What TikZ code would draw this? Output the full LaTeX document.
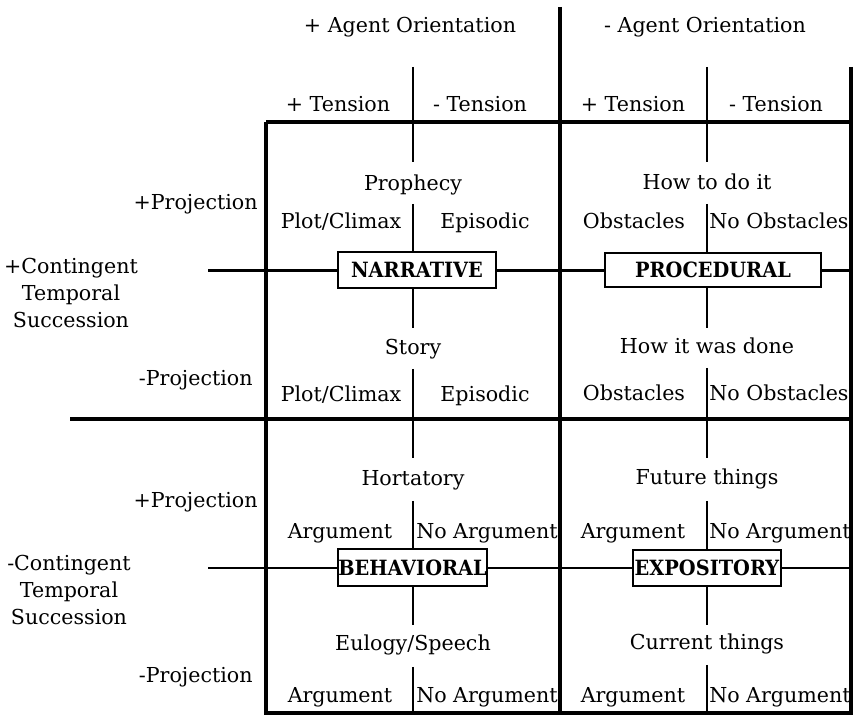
\documentclass[tikz,border=0pt]{standalone}
\usepackage{fontspec}
\setmainfont{DejaVu Serif}
\newfontfamily\boxfont[FakeStretch=0.92]{DejaVu Serif}
\begin{document}
\begin{tikzpicture}[x=0.5pt,y=-0.5pt,
  lbl/.style={font=\fontsize{10.3}{13.5}\selectfont, inner sep=0pt, text height=7.6pt, text depth=2.2pt},
  typebox/.style={draw, line width=1pt, inner sep=0pt, font=\boxfont\bfseries\fontsize{10.5}{12}\selectfont, text height=7.6pt, text depth=0.5pt},
  mainline/.style={line width=2.2pt},
  border/.style={line width=1.6pt},
  thinline/.style={line width=1.1pt},
  midline/.style={line width=1.3pt}]
\useasboundingbox (0,0) rectangle (853,716);
% headings
\node[lbl] (pao) at (410,27) {+ Agent Orientation};
\node[lbl] (mao) at (705,27) {- Agent Orientation};
\node[lbl] (pt1) at (338,106) {+ Tension};
\node[lbl] (mt1) at (480,106) {- Tension};
\node[lbl] (pt2) at (633,106) {+ Tension};
\node[lbl] (mt2) at (776,106) {- Tension};
% side labels
\node[lbl, anchor=east] (pp1) at (258,204) {+Projection};
\node[lbl, anchor=east] (mp1) at (253,380) {-Projection};
\node[lbl, anchor=east] (pp2) at (258,502) {+Projection};
\node[lbl, anchor=east] (mp2) at (253,677) {-Projection};
\node[lbl, align=center, text height=, text depth=] (pcts) at (71,293) {+Contingent\\Temporal\\Succession};
\node[lbl, align=center, text height=, text depth=] (mcts) at (69,590) {-Contingent\\Temporal\\Succession};
% boxes
\node[typebox, minimum width=79pt, minimum height=18pt] (nar) at (417,270.5) {NARRATIVE};
\node[typebox, minimum width=108pt, minimum height=17pt] (pro) at (713,270.5) {PROCEDURAL};
\node[typebox, minimum width=74.5pt, minimum height=18.5pt] (beh) at (412.5,568) {BEHAVIORAL};
\node[typebox, minimum width=74pt, minimum height=18pt] (exp) at (707,568) {EXPOSITORY};
% quadrant labels
\node[lbl] (proph) at (413,185) {Prophecy};
\node[lbl] (pc1) at (341,223) {Plot/Climax};
\node[lbl] (ep1) at (485,223) {Episodic};
\node[lbl] (story) at (413,349) {Story};
\node[lbl] (pc2) at (341,396) {Plot/Climax};
\node[lbl] (ep2) at (485,396) {Episodic};
\node[lbl] (howto) at (707,184) {How to do it};
\node[lbl] (ob1) at (634,223) {Obstacles};
\node[lbl] (nob1) at (779,223) {No Obstacles};
\node[lbl] (howwas) at (707,348) {How it was done};
\node[lbl] (ob2) at (634,395) {Obstacles};
\node[lbl] (nob2) at (779,395) {No Obstacles};
\node[lbl] (hort) at (413,480) {Hortatory};
\node[lbl] (ar1) at (340,533) {Argument};
\node[lbl] (nar1) at (487,533) {No Argument};
\node[lbl] (eul) at (413,645) {Eulogy/Speech};
\node[lbl] (ar2) at (340,697) {Argument};
\node[lbl] (nar2) at (487,697) {No Argument};
\node[lbl] (fut) at (707,479) {Future things};
\node[lbl] (ar3) at (633,533) {Argument};
\node[lbl] (nar3) at (780,533) {No Argument};
\node[lbl] (cur) at (707,644) {Current things};
\node[lbl] (ar4) at (633,697) {Argument};
\node[lbl] (nar4) at (780,697) {No Argument};
% coordinates
\coordinate (mvT) at (560,7);
\coordinate (mvB) at (560,713);
\coordinate (mhL) at (70,419);
\coordinate (mhR) at (853,419);
\coordinate (tbL) at (266,122);
\coordinate (tbR) at (853,122);
\coordinate (lbB) at (266,713);
\coordinate (rbT) at (851,67);
\coordinate (rbB) at (851,713);
\coordinate (bbR) at (853,713);
\coordinate (l1T) at (413,67);
\coordinate (l2T) at (707,67);
\coordinate (h1L) at (208,270.5);
\coordinate (h1R) at (853,270.5);
\coordinate (h2L) at (208,568);
\coordinate (h2R) at (853,568);
% main structure
\draw[mainline] (mvT) -- (mvB);
\draw[mainline] (mhL) -- (mhR);
\draw[mainline] (tbL) -- (tbR);
\draw[border] (tbL) -- (lbB) -- (bbR);
\draw[border] (rbT) -- (rbB);
\draw[midline] (l1T) -- (413,122);
\draw[midline] (l2T) -- (707,122);
% horizontal lines through boxes
\draw[thinline] (h1L) -- (nar.west);
\draw[thinline] (nar.east) -- (pro.west);
\draw[thinline] (pro.east) -- (h1R);
\draw[thinline] (h2L) -- (beh.west);
\draw[thinline] (beh.east) -- (exp.west);
\draw[thinline] (exp.east) -- (h2R);
% quadrant verticals: top-left
\draw[midline] (413,122) -- (413,162);
\draw[midline] (413,204) -- (413,204 |- nar.north);
\draw[midline] (413,328 |- nar.south) -- (413,328);
\draw[midline] (413,369) -- (413,419);
% top-right
\draw[midline] (707,122) -- (707,162);
\draw[midline] (707,204) -- (707,204 |- pro.north);
\draw[midline] (707,328 |- pro.south) -- (707,328);
\draw[midline] (707,368) -- (707,419);
% bottom-left
\draw[midline] (413,419) -- (413,458);
\draw[midline] (413,501) -- (413,501 |- beh.north);
\draw[midline] (413,625 |- beh.south) -- (413,625);
\draw[midline] (413,667) -- (413,713);
% bottom-right
\draw[midline] (707,419) -- (707,458);
\draw[midline] (707,501) -- (707,501 |- exp.north);
\draw[midline] (707,625 |- exp.south) -- (707,625);
\draw[midline] (707,665) -- (707,713);
\end{tikzpicture}
\end{document}
